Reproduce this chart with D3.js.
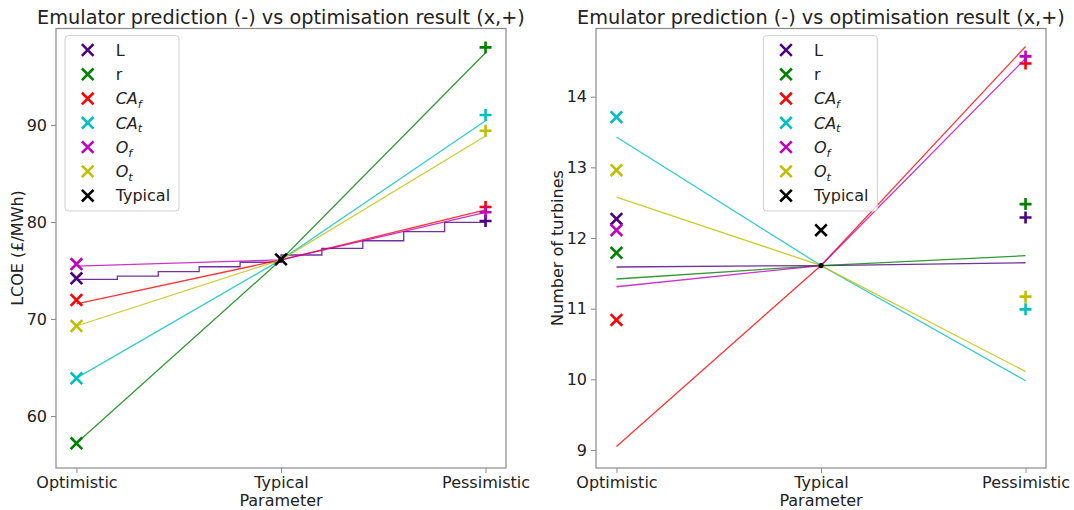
<!DOCTYPE html>
<html>
<head>
<meta charset="utf-8">
<script src="https://cdn.jsdelivr.net/npm/d3@7"></script>
<style>
  html, body { margin: 0; padding: 0; background: #fff; }
  svg { display: block; font-family: "DejaVu Sans", sans-serif; }
</style>
</head>
<body>
<svg id="chart" width="1074" height="510"></svg>
<script>
// ---- shared categories -------------------------------------------------
const scenarioLabels = ["Optimistic", "Typical", "Pessimistic"];
const scenarioPos = [0, 1, 2];
const paramNames = ["L", "r", "CA_f", "CA_t", "O_f", "O_t"];
const paramColors = ["#4b0082", "#008000", "#ff0000", "#00bfbf", "#bf00bf", "#bfbf00"];

// ---- LCOE panel ---------------------------------------------------------
// lifetime L is discrete, so its emulator curve is a staircase
const lcoeStepPos = [0, 0.2, 0.4, 0.6, 0.8, 1.0, 1.2, 1.4, 1.6, 1.8, 2.0];
const lcoeL = [74.09, 74.43, 74.88, 75.39, 75.85, 76.6, 77.29, 78.07, 79.0, 79.97, 79.97];
const lcoeR = [57.2, 76.1, 97.45];
const lcoeCAf = [71.55, 76.1, 81.24];
const lcoeCAt = [63.9, 76.1, 90.44];
const lcoeOf = [75.46, 76.1, 81.0];
const lcoeOt = [69.28, 76.1, 88.87];
const lcoeOptResult = [74.2, 57.19, 71.96, 63.89, 75.67, 69.28];
const lcoePessResult = [80.1, 98.0, 81.55, 91.03, 81.0, 89.41];
const lcoeTypicalResult = 76.15;
const lcoeTypicalPred = 76.1;
const lcoeTicks = [60, 70, 80, 90];

// ---- turbine-count panel -------------------------------------------------
const turbL = [11.59, 11.61, 11.65];
const turbR = [11.42, 11.61, 11.75];
const turbCAf = [9.05, 11.61, 14.71];
const turbCAt = [13.43, 11.61, 9.98];
const turbOf = [11.31, 11.61, 14.54];
const turbOt = [12.58, 11.61, 10.11];
const turbOptResult = [12.27, 11.79, 10.84, 13.71, 12.11, 12.96];
const turbPessResult = [12.29, 12.48, 14.47, 10.99, 14.57, 11.17];
const turbTypicalResult = 12.11;
const turbTypicalPred = 11.61;
const turbTicks = [9, 10, 11, 12, 13, 14];

const svg = d3.select("#chart");
const TEXT = "#222";
const SPINE = "#8a8a8a";
const FS = 16;

function crossPath(s) { return `M${-s},${-s}L${s},${s}M${-s},${s}L${s},${-s}`; }
function plusPath(s) { return `M${-s},0L${s},0M0,${-s}L0,${s}`; }

function labelText(sel, name) {
  const parts = name.split("_");
  if (parts.length === 1) { sel.text(name); return; }
  sel.append("tspan").attr("font-style", "italic").text(parts[0]);
  sel.append("tspan").attr("font-style", "italic").attr("font-size", FS * 0.7)
     .attr("dy", 3.6).text(parts[1]);
}

function drawPanel(cfg) {
  const x = d3.scaleLinear().domain([-0.1, 2.1]).range([cfg.left, cfg.left + 450]);
  const y = d3.scaleLinear().domain(cfg.yDomain).range([468, 28.5]);
  const g = svg.append("g");

  // axes
  const ya = g.append("g").attr("transform", `translate(${cfg.left},0)`)
    .call(d3.axisLeft(y).tickValues(cfg.yTicks).tickSize(5).tickPadding(4).tickFormat(d3.format("d")));
  const xa = g.append("g").attr("transform", "translate(0,468)")
    .call(d3.axisBottom(x).tickValues(scenarioPos).tickSize(5).tickPadding(4)
      .tickFormat((d, i) => scenarioLabels[i]));
  [ya, xa].forEach(a => {
    a.select(".domain").remove();
    a.selectAll(".tick line").attr("stroke", SPINE).attr("stroke-width", 1);
    a.selectAll(".tick text").attr("fill", TEXT).attr("font-size", FS)
      .attr("font-family", "DejaVu Sans");
  });

  // frame
  g.append("rect").attr("x", cfg.left).attr("y", 28.5).attr("width", 450).attr("height", 439.5)
    .attr("fill", "none").attr("stroke", SPINE).attr("stroke-width", 1.2);

  // titles
  g.append("text").attr("x", cfg.left + 225).attr("y", 23.5).attr("text-anchor", "middle")
    .attr("font-size", 19.3).attr("fill", TEXT)
    .text("Emulator prediction (-) vs optimisation result (x,+)");
  g.append("text").attr("x", cfg.left + 225).attr("y", 506).attr("text-anchor", "middle")
    .attr("font-size", FS).attr("fill", TEXT).text("Parameter");
  g.append("text").attr("transform", `translate(${cfg.left - 32.6},248) rotate(-90)`)
    .attr("text-anchor", "middle").attr("font-size", FS).attr("fill", TEXT).text(cfg.yLabel);

  const plot = g.append("g");
  const line = d3.line().x(d => x(d[0])).y(d => y(d[1]));
  const stepLine = d3.line().x(d => x(d[0])).y(d => y(d[1])).curve(d3.curveStepAfter);

  paramNames.forEach((name, i) => {
    const col = paramColors[i];
    const s = cfg.series[i];
    const pts = s.pos.map((p, k) => [p, s.val[k]]);
    plot.append("path").attr("d", (s.step ? stepLine : line)(pts))
      .attr("fill", "none").attr("stroke", col).attr("stroke-opacity", 0.8).attr("stroke-width", 1.3);
    plot.append("path").attr("transform", `translate(${x(0)},${y(cfg.opt[i])})`)
      .attr("d", crossPath(5.8)).attr("stroke", col).attr("stroke-width", 2.6);
    plot.append("path").attr("transform", `translate(${x(2)},${y(cfg.pess[i])})`)
      .attr("d", plusPath(6)).attr("stroke", col).attr("stroke-width", 2.6);
  });
  plot.append("circle").attr("cx", x(1)).attr("cy", y(cfg.typPred)).attr("r", 2.6).attr("fill", "#000");
  plot.append("path").attr("transform", `translate(${x(1)},${y(cfg.typResult)})`)
    .attr("d", crossPath(5.8)).attr("stroke", "#000").attr("stroke-width", 2.6);

  // legend
  const names = paramNames.concat(["Typical"]);
  const colors = paramColors.concat(["#000"]);
  const lg = g.append("g").attr("transform", `translate(${cfg.legendX},35.7)`);
  lg.append("rect").attr("width", 114).attr("height", 175.3).attr("rx", 3)
    .attr("fill", "#fff").attr("fill-opacity", 0.8).attr("stroke", "#d0d0d0").attr("stroke-width", 1);
  names.forEach((n, i) => {
    const cy = 14.3 + i * 24.28;
    lg.append("path").attr("transform", `translate(22.7,${cy})`)
      .attr("d", crossPath(5.8)).attr("stroke", colors[i]).attr("stroke-width", 2.6);
    const t = lg.append("text").attr("x", 50.7).attr("y", cy + 5.8)
      .attr("font-size", FS).attr("fill", TEXT);
    labelText(t, n);
  });
}

drawPanel({
  left: 56, legendX: 65, yLabel: "LCOE (£/MWh)",
  yDomain: [54.64, 99.95], yTicks: lcoeTicks,
  series: [
    { pos: lcoeStepPos, val: lcoeL, step: true },
    { pos: scenarioPos, val: lcoeR },
    { pos: scenarioPos, val: lcoeCAf },
    { pos: scenarioPos, val: lcoeCAt },
    { pos: scenarioPos, val: lcoeOf },
    { pos: scenarioPos, val: lcoeOt }
  ],
  opt: lcoeOptResult, pess: lcoePessResult,
  typResult: lcoeTypicalResult, typPred: lcoeTypicalPred
});

drawPanel({
  left: 596, legendX: 763.3, yLabel: "Number of turbines",
  yDomain: [8.745, 14.965], yTicks: turbTicks,
  series: [
    { pos: scenarioPos, val: turbL },
    { pos: scenarioPos, val: turbR },
    { pos: scenarioPos, val: turbCAf },
    { pos: scenarioPos, val: turbCAt },
    { pos: scenarioPos, val: turbOf },
    { pos: scenarioPos, val: turbOt }
  ],
  opt: turbOptResult, pess: turbPessResult,
  typResult: turbTypicalResult, typPred: turbTypicalPred
});
</script>
</body>
</html>
